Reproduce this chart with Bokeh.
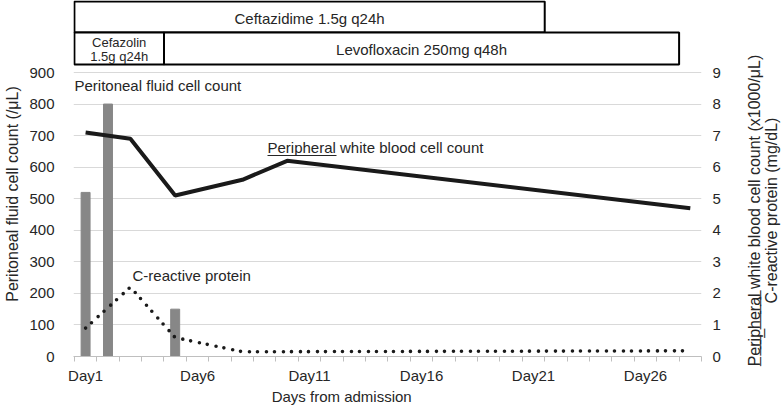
from bokeh.plotting import figure
from bokeh.layouts import row
from bokeh.models import Range1d, LinearAxis, FixedTicker, Label
from bokeh.embed import file_html
from bokeh.resources import INLINE
import math

# ---------------- data ----------------
days = list(range(1, 29))
tick_days = [1, 6, 11, 16, 21, 26]
tick_labels = ["Day1", "Day6", "Day11", "Day16", "Day21", "Day26"]
left_ticks = [0, 100, 200, 300, 400, 500, 600, 700, 800, 900]
right_ticks = [0, 1, 2, 3, 4, 5, 6, 7, 8, 9]

fluid_days = [1, 2, 5]
fluid_counts = [520, 800, 150]

wbc_days = [1, 3, 5, 8, 10, 28]
wbc_values = [7.1, 6.9, 5.1, 5.6, 6.2, 4.7]

crp_days = [1, 3, 5, 8, 28]
crp_values = [0.9, 2.2, 0.6, 0.15, 0.18]

regimen_names = ["Ceftazidime 1.5g q24h", "Cefazolin\n1.5g q24h", "Levofloxacin 250mg q48h"]
regimen_start = [1, 1, 5]
regimen_end = [21, 4, 27]
regimen_row = [0, 1, 1]

# ---------------- layout (page pixels) ----------------
W, H = 782, 407
LW, RW = 26, 41                      # side title strips
FL, FR, FT, FB = 73, 701, 0, 356     # plot frame
X0, X1 = 0.46, 28.5
PPD = (FR - FL) / (X1 - X0)
PPU = (FB - 72) / 900.0
YTOP = (FB - FT) / PPU

def fx(px):
    return X0 + (px - FL) / PPD

def fy(py):
    return (FB - py) / PPU

FONT = "Liberation Sans"
TXT = "#262626"
NB = "\u00a0"
UL = "\u0332"

def no_align(f):
    try:
        f.frame_align = False
    except Exception:
        pass

def strip(width):
    f = figure(width=width, height=H, output_backend="svg", toolbar_location=None,
               x_range=Range1d(0, width), y_range=Range1d(0, H),
               x_axis_type=None, y_axis_type=None, min_border=0)
    f.min_border_left = f.min_border_right = f.min_border_top = f.min_border_bottom = 0
    f.outline_line_color = None
    f.background_fill_color = "white"
    f.border_fill_color = "white"
    no_align(f)
    return f

# ---------------- main plot ----------------
p = figure(width=W - LW - RW, height=H, output_backend="svg", toolbar_location=None,
           x_range=Range1d(X0, X1), y_range=Range1d(0, YTOP),
           min_border_left=FL - LW, min_border_right=W - RW - FR, min_border_top=FT,
           min_border_bottom=H - FB)
p.outline_line_color = None
p.background_fill_color = "white"
p.border_fill_color = "white"
no_align(p)
p.extra_y_ranges = {"right": Range1d(0, YTOP / 100.0)}

# x axis
p.xaxis.ticker = FixedTicker(ticks=tick_days, minor_ticks=[d - 0.5 for d in days] + [days[-1] + 0.5])
p.xaxis.major_label_overrides = dict(zip(tick_days, tick_labels))
p.xaxis.axis_line_color = "#bfbfbf"
p.xaxis.major_tick_line_color = None
p.xaxis.minor_tick_line_color = "#bfbfbf"
p.xaxis.minor_tick_out = 5
p.xaxis.minor_tick_in = 0
p.xaxis.major_label_standoff = 4
p.xaxis.major_label_text_font = FONT
p.xaxis.major_label_text_font_size = "15px"
p.xaxis.major_label_text_color = TXT
p.xaxis.axis_label = "Days from admission" + NB * 22
p.xaxis.axis_label_standoff = 1
p.xaxis.axis_label_text_font = FONT
p.xaxis.axis_label_text_font_size = "15px"
p.xaxis.axis_label_text_font_style = "normal"
p.xaxis.axis_label_text_color = TXT
p.xgrid.grid_line_color = None

# left axis
p.yaxis.ticker = FixedTicker(ticks=left_ticks)
p.yaxis.axis_line_color = None
p.yaxis.major_tick_line_color = None
p.yaxis.minor_tick_line_color = None
p.yaxis.major_label_standoff = 13
p.yaxis.major_label_text_font = FONT
p.yaxis.major_label_text_font_size = "15px"
p.yaxis.major_label_text_color = TXT
p.ygrid.ticker = FixedTicker(ticks=left_ticks)
p.ygrid.grid_line_color = "#d9d9d9"

# right axis
ra = LinearAxis(y_range_name="right", ticker=FixedTicker(ticks=right_ticks))
ra.axis_line_color = None
ra.major_tick_line_color = None
ra.minor_tick_line_color = None
ra.major_label_standoff = 5
ra.major_label_text_font = FONT
ra.major_label_text_font_size = "15px"
ra.major_label_text_color = TXT
p.add_layout(ra, "right")

# bars
p.vbar(x=fluid_days, top=fluid_counts, width=0.4, color="#878787")

# WBC line
p.line(wbc_days, wbc_values, y_range_name="right", line_width=4, color="#1a1a1a")

# CRP dotted
p.line(crp_days, crp_values, y_range_name="right", line_width=3.6, line_dash="0 8 0 9",
       line_cap="round", color="#1a1a1a")

# regimen boxes
row_top_px = [1, 32]
row_bot_px = [32, 64]
p.quad(left=[s - 0.5 for s in regimen_start], right=[e + 0.5 for e in regimen_end],
       top=[fy(row_top_px[r]) for r in regimen_row], bottom=[fy(row_bot_px[r]) for r in regimen_row],
       fill_color="white", line_color="black", line_width=2)

for name, s, e, r in zip(regimen_names, regimen_start, regimen_end, regimen_row):
    lines = name.split("\n")
    cx = (s + e) / 2.0
    mid_px = (row_top_px[r] + row_bot_px[r]) / 2.0 + 1
    if len(lines) == 1:
        p.add_layout(Label(x=cx, y=fy(mid_px), text=lines[0], text_align="center",
                           text_baseline="middle", text_font=FONT, text_font_size="15px",
                           text_color=TXT))
    else:
        for i, ln in enumerate(lines):
            off = (i - (len(lines) - 1) / 2.0) * 14
            p.add_layout(Label(x=cx, y=fy(mid_px + off), text=ln, text_align="center",
                               text_baseline="middle", text_font=FONT, text_font_size="13px",
                               text_color=TXT))

def lab(px, py, text, size="15px", align="left"):
    p.add_layout(Label(x=fx(px), y=fy(py), text=text, text_align=align,
                       text_baseline="middle", text_font=FONT, text_font_size=size,
                       text_color=TXT))

lab(74, 85, "Peritoneal fluid cell count")
lab(267, 147, "Peripheral white blood cell count")
p.segment(x0=[fx(267)], y0=[fy(155)], x1=[fx(267 + 69)], y1=[fy(155)],
          line_color=TXT, line_width=1)
lab(132, 275, "C-reactive protein")

# ---------------- side title strips ----------------
lf = strip(LW)
lf.add_layout(Label(x=12, y=H - 193.5, text="Peritoneal fluid cell count (/\u03bcL)",
                    angle=math.pi / 2, text_align="center", text_baseline="middle",
                    text_font=FONT, text_font_size="16px", text_color=TXT))

rf = strip(RW)
peripheral_ul = "".join(c + UL for c in "Peripheral")
rf.add_layout(Label(x=753.5 - (W - RW), y=H - 210,
                    text=peripheral_ul + " white blood cell count (x1000/\u03bcL)",
                    angle=math.pi / 2, text_align="center", text_baseline="middle",
                    text_font=FONT, text_font_size="16px", text_color=TXT))
rf.add_layout(Label(x=770.5 - (W - RW), y=H - 210, text="C-reactive protein (mg/dL)",
                    angle=math.pi / 2, text_align="center", text_baseline="middle",
                    text_font=FONT, text_font_size="16px", text_color=TXT))

layout = row(lf, p, rf, spacing=0)
open("out.html", "w").write(file_html(layout, INLINE))
